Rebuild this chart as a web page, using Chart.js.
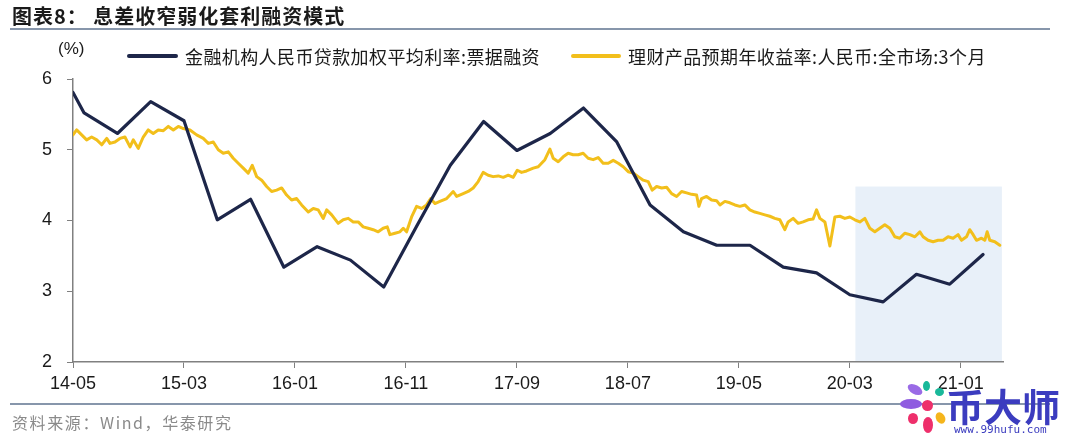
<!DOCTYPE html>
<html lang="zh-CN">
<head>
<meta charset="UTF-8">
<title>息差收窄弱化套利融资模式</title>
<script src="https://cdn.jsdelivr.net/npm/chart.js"></script>
<style>
  html, body { margin: 0; padding: 0; background: #fff; }
  body { width: 1080px; height: 433px; position: relative; overflow: hidden; font-family: "Noto Sans CJK SC", "Liberation Sans", sans-serif; color: #1a1a1a; }
  #chart { position: absolute; left: 0; top: 0; }
  .abs { position: absolute; white-space: nowrap; }
  .title { left: 12px; top: 5px; font-size: 20px; font-weight: 700; line-height: 22px; letter-spacing: 1px; }
  .rule { left: 10px; width: 1040px; height: 2px; background: #8796ab; }
  .unit { left: 58px; top: 39px; font: 17px "Liberation Sans", sans-serif; line-height: 20px; }
  .legend-line { height: 4px; top: 54px; border-radius: 2px; }
  .legend-text { top: 45px; font-size: 18px; line-height: 22px; letter-spacing: 0.4px; }
  .source { left: 12px; top: 411px; font-size: 16px; line-height: 22px; letter-spacing: 1.6px; color: #8a8a8a; }
  .wm { left: 946px; top: 386px; font-size: 38px; font-weight: 700; line-height: 38px; color: #3b3cbf; }
  .wm-url { left: 954px; top: 423px; font: 11px "DejaVu Sans Mono", monospace; line-height: 13px; color: #3b3cbf; }
  .petal { position: absolute; border-radius: 50%; }
</style>
</head>
<body>

<canvas id="chart" width="1080" height="433"></canvas>

<div class="abs title">图表8：&nbsp;息差收窄弱化套利融资模式</div>
<div class="abs rule" style="top: 28px;"></div>
<div class="abs unit">(%)</div>

<div class="abs legend-line" style="left: 127px; width: 51px; background: #1d2649;"></div>
<div class="abs legend-text" style="left: 185px;">金融机构人民币贷款加权平均利率:票据融资</div>
<div class="abs legend-line" style="left: 571px; width: 50px; background: #f2bf1b;"></div>
<div class="abs legend-text" style="left: 628px;">理财产品预期年收益率:人民币:全市场:3个月</div>

<div class="abs rule" style="top: 403px;"></div>
<div class="abs source">资料来源：Wind，华泰研究</div>

<div class="petal" style="left: 900px; top: 399px; width: 22px; height: 10px; background: #8f5ce0;"></div>
<div class="petal" style="left: 907px; top: 385px; width: 16px; height: 9px; background: #9a6be6; transform: rotate(30deg);"></div>
<div class="petal" style="left: 923px; top: 381px; width: 7px; height: 10px; background: #19b89a;"></div>
<div class="petal" style="left: 935px; top: 388px; width: 9px; height: 8px; background: #19b89a;"></div>
<div class="petal" style="left: 922px; top: 400px; width: 11px; height: 11px; background: #ee2f6b;"></div>
<div class="petal" style="left: 936px; top: 412px; width: 9px; height: 12px; background: #f5b51c; transform: rotate(-30deg);"></div>
<div class="petal" style="left: 923px; top: 417px; width: 10px; height: 16px; background: #ee2f6b;"></div>
<div class="petal" style="left: 908px; top: 413px; width: 10px; height: 11px; background: #ee2f6b;"></div>
<div class="abs wm">币大师</div>
<div class="abs wm-url">www.99hufu.com</div>

<script>
    // x axis is months counted from 2014-05
    const xTickMonths = [0, 10, 20, 30, 40, 50, 60, 70, 80];
    const xTickLabels = ['14-05', '15-03', '16-01', '16-11', '17-09', '18-07', '19-05', '20-03', '21-01'];
    const yTicks = [2, 3, 4, 5, 6];

    // 金融机构人民币贷款加权平均利率:票据融资 (quarterly)
    const loanDates = ['2014-05', '2014-06', '2014-09', '2014-12', '2015-03', '2015-06', '2015-09', '2015-12',
        '2016-03', '2016-06', '2016-09', '2016-12', '2017-03', '2017-06', '2017-09', '2017-12',
        '2018-03', '2018-06', '2018-09', '2018-12', '2019-03', '2019-06', '2019-09', '2019-12',
        '2020-03', '2020-06', '2020-09', '2020-12', '2021-03'];
    const loanRate = [5.81, 5.52, 5.23, 5.68, 5.41, 4.01, 4.30, 3.34,
        3.63, 3.44, 3.06, 3.93, 4.78, 5.40, 4.99, 5.23,
        5.59, 5.11, 4.22, 3.84, 3.65, 3.65, 3.34, 3.26,
        2.95, 2.85, 3.24, 3.10, 3.52];

    // 理财产品预期年收益率:人民币:全市场:3个月
    const wmpMonth = [0, 0.33, 0.78, 1.23, 1.68, 2.14, 2.59, 3.04, 3.33, 3.78, 4.23, 4.68, 5.14, 5.43, 5.88, 6.33, 6.78, 7.23, 7.68, 8.14,
        8.59, 9.04, 9.49, 9.94, 10.54, 11.14, 11.74, 12.19, 12.64, 13.09, 13.54, 13.99, 14.44, 14.89, 15.34, 15.79, 16.15, 16.55, 17.00, 17.45,
        17.90, 18.35, 18.80, 19.25, 19.70, 20.15, 20.60, 21.20, 21.65, 22.10, 22.55, 22.86, 23.31, 23.90, 24.35, 24.80, 25.25, 25.70, 26.15, 26.60,
        27.05, 27.50, 27.95, 28.32, 28.56, 29.01, 29.46, 29.76, 30.06, 30.51, 30.96, 31.41, 31.86, 32.23, 32.61, 33.06, 33.67, 34.26, 34.57, 35.16,
        35.61, 36.06, 36.51, 36.96, 37.41, 37.86, 38.32, 38.77, 39.22, 39.67, 40.03, 40.42, 40.87, 41.47, 41.92, 42.52, 42.97, 43.27, 43.72, 44.17,
        44.62, 45.07, 45.52, 45.97, 46.42, 46.87, 47.32, 47.77, 48.23, 48.68, 49.13, 49.58, 50.03, 50.48, 50.93, 51.38, 51.83, 52.19, 52.59, 53.04,
        53.49, 53.94, 54.39, 54.84, 55.29, 55.74, 56.19, 56.40, 56.64, 57.09, 57.54, 57.99, 58.29, 58.74, 59.19, 59.64, 60.09, 60.54, 60.99, 61.44,
        61.89, 62.34, 62.79, 63.24, 63.69, 64.14, 64.44, 64.89, 65.34, 65.79, 66.24, 66.69, 67.00, 67.30, 67.75, 68.20, 68.65, 69.10, 69.55, 70.00,
        70.45, 70.90, 71.35, 71.80, 72.25, 72.70, 73.15, 73.60, 74.05, 74.50, 74.95, 75.41, 75.86, 76.31, 76.60, 77.05, 77.50, 77.95, 78.40, 78.85,
        79.30, 79.75, 80.06, 80.51, 80.80, 81.11, 81.41, 81.86, 82.16, 82.37, 82.61, 83.06, 83.51];
    const wmpYield = [5.21, 5.28, 5.21, 5.14, 5.18, 5.14, 5.07, 5.16, 5.09, 5.11, 5.16, 5.18, 5.04, 5.14, 5.02, 5.18, 5.28, 5.23, 5.28, 5.27,
        5.33, 5.28, 5.33, 5.30, 5.28, 5.21, 5.16, 5.09, 5.11, 5.00, 4.95, 4.97, 4.88, 4.81, 4.74, 4.67, 4.78, 4.62, 4.57, 4.48,
        4.41, 4.43, 4.46, 4.36, 4.29, 4.31, 4.22, 4.12, 4.17, 4.15, 4.03, 4.15, 4.08, 3.96, 4.01, 4.03, 3.98, 3.98, 3.91, 3.89,
        3.87, 3.84, 3.89, 3.91, 3.80, 3.82, 3.84, 3.89, 3.84, 4.05, 4.20, 4.17, 4.22, 4.31, 4.24, 4.27, 4.31, 4.41, 4.34, 4.38,
        4.41, 4.46, 4.55, 4.68, 4.64, 4.62, 4.63, 4.61, 4.64, 4.61, 4.71, 4.68, 4.70, 4.74, 4.76, 4.86, 5.01, 4.88, 4.83, 4.90,
        4.95, 4.93, 4.93, 4.95, 4.88, 4.86, 4.89, 4.81, 4.81, 4.85, 4.81, 4.76, 4.69, 4.67, 4.62, 4.57, 4.55, 4.43, 4.48, 4.46,
        4.47, 4.38, 4.34, 4.41, 4.39, 4.37, 4.36, 4.20, 4.31, 4.34, 4.29, 4.28, 4.22, 4.27, 4.25, 4.22, 4.20, 4.22, 4.15, 4.12,
        4.10, 4.08, 4.06, 4.03, 4.01, 3.87, 3.98, 4.03, 3.96, 3.98, 4.01, 4.02, 4.15, 4.03, 3.98, 3.64, 4.05, 4.06, 4.03, 4.05,
        4.01, 3.98, 4.03, 3.89, 3.84, 3.89, 3.94, 3.89, 3.77, 3.75, 3.82, 3.80, 3.77, 3.84, 3.77, 3.72, 3.70, 3.72, 3.72, 3.77,
        3.75, 3.80, 3.72, 3.77, 3.87, 3.80, 3.72, 3.75, 3.72, 3.84, 3.72, 3.70, 3.65];

    // shaded band: months and top value
    const highlightMonths = [70.5, 83.7];
    const highlightTop = 4.48;

    function monthOffset(s) {
        const [yy, mm] = s.split('-').map(Number);
        return (yy - 2014) * 12 + (mm - 5);
    }

    const highlightBand = {
        id: 'highlightBand',
        beforeDraw(chart) {
            const { ctx, scales: { x, y } } = chart;
            const left = x.getPixelForValue(highlightMonths[0]);
            const right = x.getPixelForValue(highlightMonths[1]);
            const top = y.getPixelForValue(highlightTop);
            ctx.save();
            ctx.fillStyle = '#e8f0f9';
            ctx.fillRect(left, top, right - left, y.bottom - top);
            ctx.restore();
        }
    };

    const tickFont = { family: '"Liberation Sans", Arial, sans-serif', size: 18 };

    new Chart(document.getElementById('chart'), {
        type: 'line',
        data: {
            datasets: [{
                label: '金融机构人民币贷款加权平均利率:票据融资',
                data: loanDates.map((d, i) => ({ x: monthOffset(d), y: loanRate[i] })),
                borderColor: '#1d2649',
                borderWidth: 3.2
            }, {
                label: '理财产品预期年收益率:人民币:全市场:3个月',
                data: wmpMonth.map((m, i) => ({ x: m, y: wmpYield[i] })),
                borderColor: '#f2bf1b',
                borderWidth: 3
            }]
        },
        options: {
            responsive: false,
            animation: false,
            events: [],
            layout: { padding: { left: 0, top: 79, right: 77, bottom: 0 } },
            plugins: { legend: { display: false }, tooltip: { enabled: false } },
            elements: {
                point: { radius: 0 },
                line: { tension: 0, borderJoinStyle: 'round', borderCapStyle: 'round' }
            },
            scales: {
                x: {
                    type: 'linear',
                    min: 0,
                    max: 83.8,
                    afterBuildTicks: s => { s.ticks = xTickMonths.map(v => ({ value: v })); },
                    afterFit: s => { s.height = 71; },
                    ticks: {
                        callback: (v, i) => xTickLabels[i],
                        font: tickFont,
                        color: '#1a1a1a',
                        padding: 5,
                        maxRotation: 0,
                        autoSkip: false
                    },
                    grid: { drawOnChartArea: false, tickLength: 6, color: '#808080' },
                    border: { color: '#808080', width: 1.5 }
                },
                y: {
                    min: 2,
                    max: 6,
                    afterBuildTicks: s => { s.ticks = yTicks.map(v => ({ value: v })); },
                    afterFit: s => { s.width = 73; },
                    ticks: { font: tickFont, color: '#1a1a1a', padding: 15 },
                    grid: { drawOnChartArea: false, tickLength: 6, color: '#808080' },
                    border: { color: '#808080', width: 1.5 }
                }
            }
        },
        plugins: [highlightBand]
    });
</script>

</body>
</html>
